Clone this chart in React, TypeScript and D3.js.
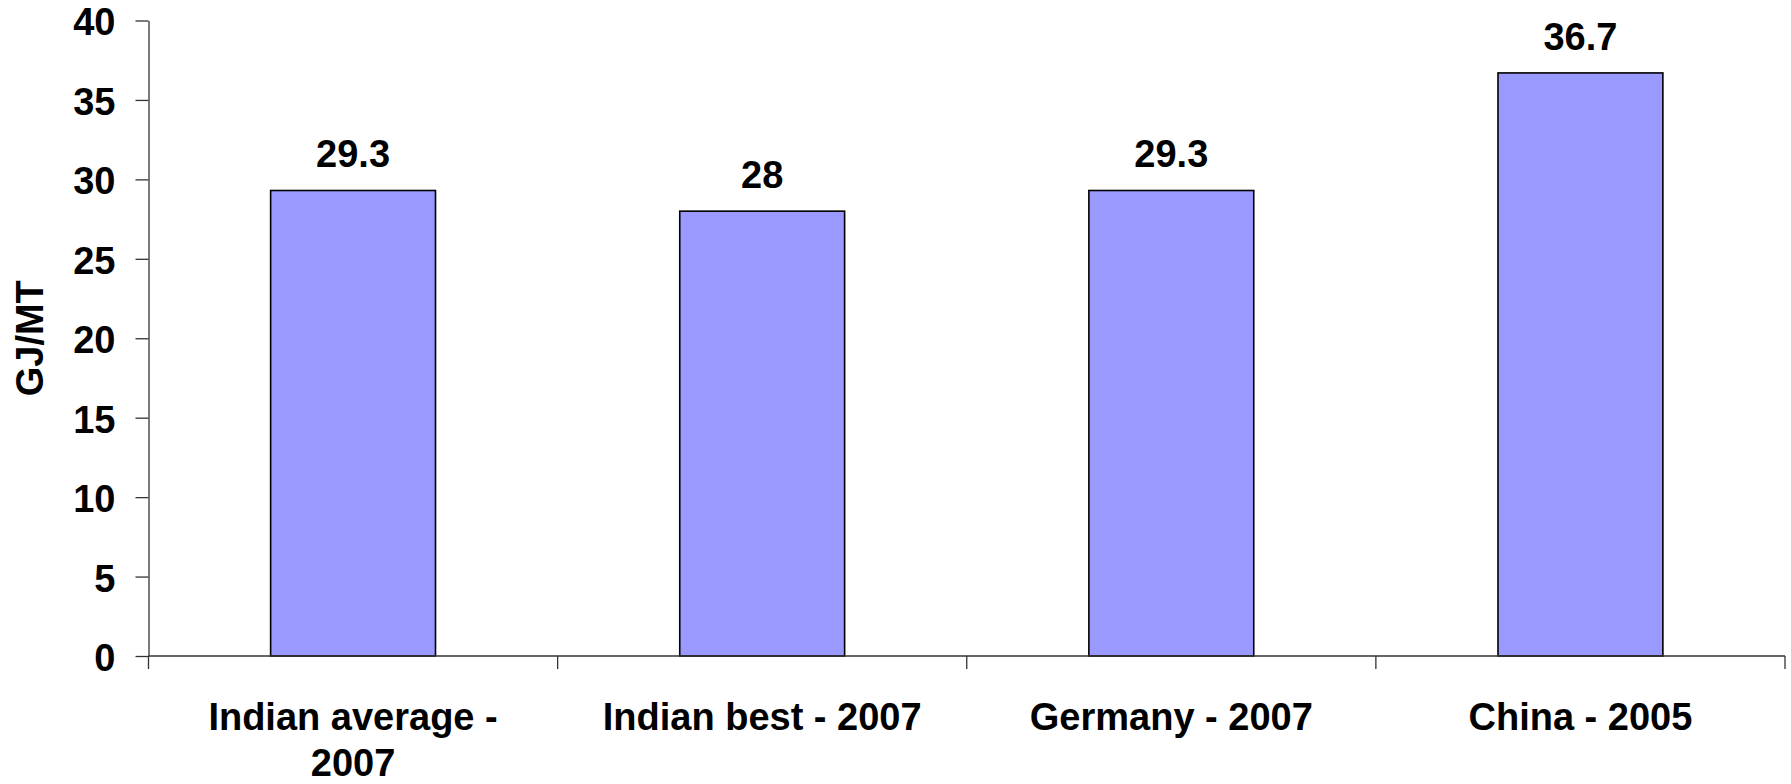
import React, { useEffect, useRef } from 'react';
import * as d3 from 'd3';

// chart data
const categories = ['Indian average -\n2007', 'Indian best - 2007', 'Germany - 2007', 'China - 2005'];
const values = [29.3, 28, 29.3, 36.7];
const valueLabels = ['29.3', '28', '29.3', '36.7'];
const yTicks = [0, 5, 10, 15, 20, 25, 30, 35, 40];
const yTitle = 'GJ/MT';

const W = 1791;
const H = 784;
const FONT = 'Liberation Sans, Arial, sans-serif';

const App = () => {
  const ref = useRef<SVGSVGElement>(null);

  useEffect(() => {
    const svg = d3.select(ref.current)
      .attr('width', W)
      .attr('height', H);

    svg.selectAll('*').remove();

    const left = 148.5;
    const right = 1785;
    const top = 20.5;
    const bottom = 656;

    const x = d3.scaleBand<number>()
      .domain(categories.map((d, i) => i))
      .range([left, right])
      .padding(0);

    const y = d3.scaleLinear()
      .domain([0, 40])
      .range([bottom, top]);

    const barW = x.bandwidth() * 0.403;

    // bars
    svg.selectAll('rect.bar')
      .data(values)
      .enter()
      .append('rect')
      .attr('class', 'bar')
      .attr('x', (d, i) => x(i)! + x.bandwidth() / 2 - barW / 2)
      .attr('y', d => y(d))
      .attr('width', barW)
      .attr('height', d => bottom - y(d))
      .attr('fill', '#9999FF')
      .attr('stroke', '#000')
      .attr('stroke-width', 1.6);

    // value labels
    svg.selectAll('text.val')
      .data(values)
      .enter()
      .append('text')
      .attr('class', 'val')
      .attr('x', (d, i) => x(i)! + x.bandwidth() / 2)
      .attr('y', d => y(d) - 23)
      .attr('text-anchor', 'middle')
      .attr('font-family', FONT)
      .attr('font-weight', 'bold')
      .attr('font-size', 38)
      .text((d, i) => valueLabels[i]);

    // y axis
    const yAxis = svg.append('g')
      .attr('transform', `translate(${left},0)`)
      .call(d3.axisLeft(y).tickValues(yTicks).tickSize(13).tickPadding(20).tickSizeOuter(0));
    yAxis.select('.domain').attr('stroke', '#333').attr('stroke-width', 1.3);
    yAxis.selectAll('.tick line').attr('stroke', '#333').attr('stroke-width', 1.3);
    yAxis.selectAll('.tick text')
      .attr('font-family', FONT)
      .attr('font-weight', 'bold')
      .attr('font-size', 38)
      .attr('fill', '#000')
      .attr('dy', '0.38em');

    // x axis with ticks at band boundaries
    const xg = svg.append('g');
    xg.append('line')
      .attr('x1', left).attr('x2', right)
      .attr('y1', bottom).attr('y2', bottom)
      .attr('stroke', '#333').attr('stroke-width', 1.3);
    const bounds = categories.map((d, i) => x(i)!).concat([right]);
    xg.selectAll('line.xt')
      .data(bounds)
      .enter()
      .append('line')
      .attr('class', 'xt')
      .attr('x1', d => d).attr('x2', d => d)
      .attr('y1', bottom).attr('y2', bottom + 13)
      .attr('stroke', '#333').attr('stroke-width', 1.3);

    // category labels
    categories.forEach((c, i) => {
      const t = svg.append('text')
        .attr('x', x(i)! + x.bandwidth() / 2)
        .attr('y', 730)
        .attr('text-anchor', 'middle')
        .attr('font-family', FONT)
        .attr('font-weight', 'bold')
        .attr('font-size', 38);
      c.split('\n').forEach((line, j) => {
        t.append('tspan')
          .attr('x', x(i)! + x.bandwidth() / 2)
          .attr('dy', j === 0 ? 0 : 46)
          .text(line);
      });
    });

    // y title
    svg.append('text')
      .attr('transform', `translate(43,${(top + bottom) / 2}) rotate(-90)`)
      .attr('text-anchor', 'middle')
      .attr('font-family', FONT)
      .attr('font-weight', 'bold')
      .attr('font-size', 38)
      .text(yTitle);
  }, []);

  return <svg ref={ref} style={{ position: 'absolute', left: 0, top: 0, display: 'block', background: '#fff' }}></svg>;
};

export default App;
